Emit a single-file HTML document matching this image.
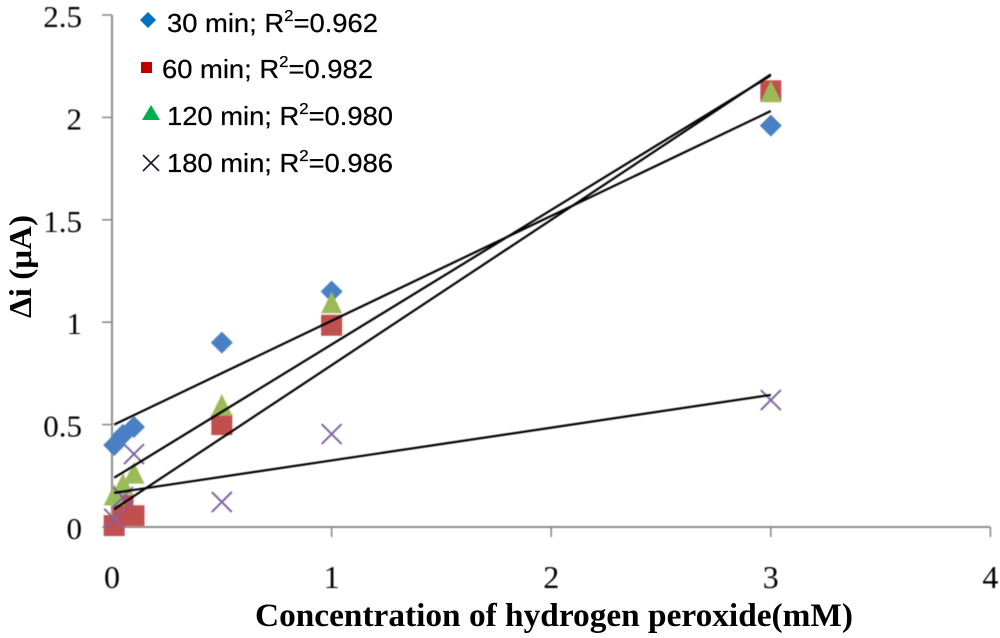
<!DOCTYPE html>
<html>
<head>
<meta charset="utf-8">
<title>Δi vs hydrogen peroxide concentration</title>
<style>
html,body{margin:0;padding:0;background:#fff;width:1000px;height:638px;overflow:hidden}
svg{display:block}
.tick-label{font-family:"Liberation Serif",serif;font-size:31px;fill:#000}
.x-label{font-size:32px}
.axis-title{font-family:"Liberation Serif",serif;font-weight:bold;font-size:33px;fill:#000}
.y-title{font-size:32px}
.legend-text{font-family:"Liberation Sans",sans-serif;font-size:26px;fill:#000;stroke:#000;stroke-width:0.25px}
.legend-sup{font-size:16px}
</style>
</head>
<body>
<svg id="chart" width="1000" height="638" viewBox="0 0 1000 638" xmlns="http://www.w3.org/2000/svg">
  <defs>
    <filter id="soft" x="-5%" y="-5%" width="110%" height="110%"><feGaussianBlur stdDeviation="0.45"/></filter>
  </defs>
  <g id="axes" filter="url(#soft)"></g>
  <g id="marks" filter="url(#soft)"></g>
  <g id="trends" filter="url(#soft)"></g>

  <text class="axis-title" x="255" y="626" textLength="598" lengthAdjust="spacingAndGlyphs">Concentration of hydrogen peroxide(mM)</text>
  <text class="axis-title y-title" transform="translate(31,318) rotate(-90)" textLength="103" lengthAdjust="spacingAndGlyphs">Δi (μA)</text>

  <g>
    <g>
      <polygon points="148,12 156,20 148,28 140,20" fill="#0070c0"/>
      <text class="legend-text" x="167" y="32" textLength="211" lengthAdjust="spacingAndGlyphs">30 min; R<tspan class="legend-sup" dy="-11">2</tspan><tspan dy="11">=0.962</tspan></text>
    </g>
    <g>
      <rect x="141" y="62" width="11" height="11" fill="#c00000"/>
      <text class="legend-text" x="162" y="78" textLength="211" lengthAdjust="spacingAndGlyphs">60 min; R<tspan class="legend-sup" dy="-11">2</tspan><tspan dy="11">=0.982</tspan></text>
    </g>
    <g>
      <polygon points="151,105 160,120 142,120" fill="#00b050"/>
      <text class="legend-text" x="167" y="125" textLength="226" lengthAdjust="spacingAndGlyphs">120 min; R<tspan class="legend-sup" dy="-11">2</tspan><tspan dy="11">=0.980</tspan></text>
    </g>
    <g>
      <path d="M143 155L159 171M159 155L143 171" stroke="#1a1a2e" stroke-width="1.6" fill="none"/>
      <text class="legend-text" x="167" y="172" textLength="226" lengthAdjust="spacingAndGlyphs">180 min; R<tspan class="legend-sup" dy="-11">2</tspan><tspan dy="11">=0.986</tspan></text>
    </g>
  </g>
</svg>
<script>
var concentrations = [0.01, 0.05, 0.1, 0.5, 1, 3];
var series30 = [0.40, 0.45, 0.488, 0.90, 1.15, 1.96];
var series60 = [0.007, 0.105, 0.055, 0.50, 0.985, 2.13];
var series120 = [0.156, 0.21, 0.263, 0.595, 1.095, 2.125];
var series180 = [0.04, 0.146, 0.356, 0.122, 0.454, 0.62];
var trendIntercepts = [0.495, 0.08, 0.234, 0.165];
var trendSlopes = [0.512, 0.71, 0.657, 0.16];
var trendNames = ['trend-30-min', 'trend-60-min', 'trend-120-min', 'trend-180-min'];
var trendFrom = 0.01;
var trendTo = 3;
var xTicks = [0, 1, 2, 3, 4];
var yTicks = [0, 0.5, 1, 1.5, 2, 2.5];

var NS = 'http://www.w3.org/2000/svg';
function xScale(v) { return 112 + v * 219.6; }
function yScale(v) { return 527 - v * 204.8; }
function make(tag, parent) {
  var el = document.createElementNS(NS, tag);
  parent.appendChild(el);
  return el;
}
var axes = document.getElementById('axes');
var marks = document.getElementById('marks');
var trends = document.getElementById('trends');
var AXIS = '#8c8c8c';

var xAxis = make('line', axes);


xAxis.setAttribute('x1', xScale(0)); xAxis.setAttribute('x2', xScale(4));
xAxis.setAttribute('y1', yScale(0)); xAxis.setAttribute('y2', yScale(0));
xAxis.setAttribute('stroke', AXIS); xAxis.setAttribute('stroke-width', 2);

var yAxis = make('line', axes);


yAxis.setAttribute('x1', xScale(0)); yAxis.setAttribute('x2', xScale(0));
yAxis.setAttribute('y1', yScale(0)); yAxis.setAttribute('y2', yScale(2.5));
yAxis.setAttribute('stroke', AXIS); yAxis.setAttribute('stroke-width', 2);

xTicks.forEach(function (t) {
  var x = xScale(t);
  if (t !== 0) {
    var tick = make('line', axes);
    
    
    tick.setAttribute('x1', x); tick.setAttribute('x2', x);
    tick.setAttribute('y1', yScale(0)); tick.setAttribute('y2', yScale(0) + 10);
    tick.setAttribute('stroke', AXIS); tick.setAttribute('stroke-width', 1.6);
  }
  var label = make('text', axes);
  
  
  label.setAttribute('class', 'tick-label x-label');
  label.setAttribute('x', x);
  label.setAttribute('y', 588);
  label.setAttribute('text-anchor', 'middle');
  label.textContent = String(t);
});

yTicks.forEach(function (t) {
  var y = yScale(t);
  var tick = make('line', axes);
  
  
  tick.setAttribute('x1', 102); tick.setAttribute('x2', xScale(0));
  tick.setAttribute('y1', y); tick.setAttribute('y2', y);
  tick.setAttribute('stroke', AXIS); tick.setAttribute('stroke-width', 1.6);
  var label = make('text', axes);
  
  
  label.setAttribute('class', 'tick-label');
  label.setAttribute('x', 82);
  label.setAttribute('y', y + 12);
  label.setAttribute('text-anchor', 'end');
  label.textContent = String(t);
});

concentrations.forEach(function (c, i) {
  var x = xScale(c), y = yScale(series30[i]);
  var d = make('polygon', marks);
  
  
  d.setAttribute('points', [x, y - 11, x + 11, y, x, y + 11, x - 11, y].join(' '));
  d.setAttribute('fill', '#4a80c4');
});
concentrations.forEach(function (c, i) {
  var x = xScale(c), y = yScale(series60[i]);
  var s = make('rect', marks);
  
  
  s.setAttribute('x', x - 10.5); s.setAttribute('y', y - 10.5);
  s.setAttribute('width', 21); s.setAttribute('height', 21);
  s.setAttribute('fill', '#c0504d');
});
concentrations.forEach(function (c, i) {
  var x = xScale(c), y = yScale(series120[i]);
  var t = make('polygon', marks);
  
  
  t.setAttribute('points', [x, y - 11, x + 10.5, y + 10.5, x - 10.5, y + 10.5].join(' '));
  t.setAttribute('fill', '#9bbb59');
});
concentrations.forEach(function (c, i) {
  var x = xScale(c), y = yScale(series180[i]);
  var p = make('path', marks);
  
  
  p.setAttribute('d', 'M' + (x - 10) + ' ' + (y - 10) + 'L' + (x + 10) + ' ' + (y + 10) + 'M' + (x + 10) + ' ' + (y - 10) + 'L' + (x - 10) + ' ' + (y + 10));
  p.setAttribute('stroke', '#8064a2');
  p.setAttribute('stroke-width', 2);
  p.setAttribute('fill', 'none');
});

trendIntercepts.forEach(function (b, i) {
  var l = make('line', trends);
  
  
  l.setAttribute('x1', xScale(trendFrom));
  l.setAttribute('y1', yScale(b + trendSlopes[i] * trendFrom));
  l.setAttribute('x2', xScale(trendTo));
  l.setAttribute('y2', yScale(b + trendSlopes[i] * trendTo));
  l.setAttribute('stroke', '#000');
  l.setAttribute('stroke-width', 2.2);
});
</script>
</body>
</html>
